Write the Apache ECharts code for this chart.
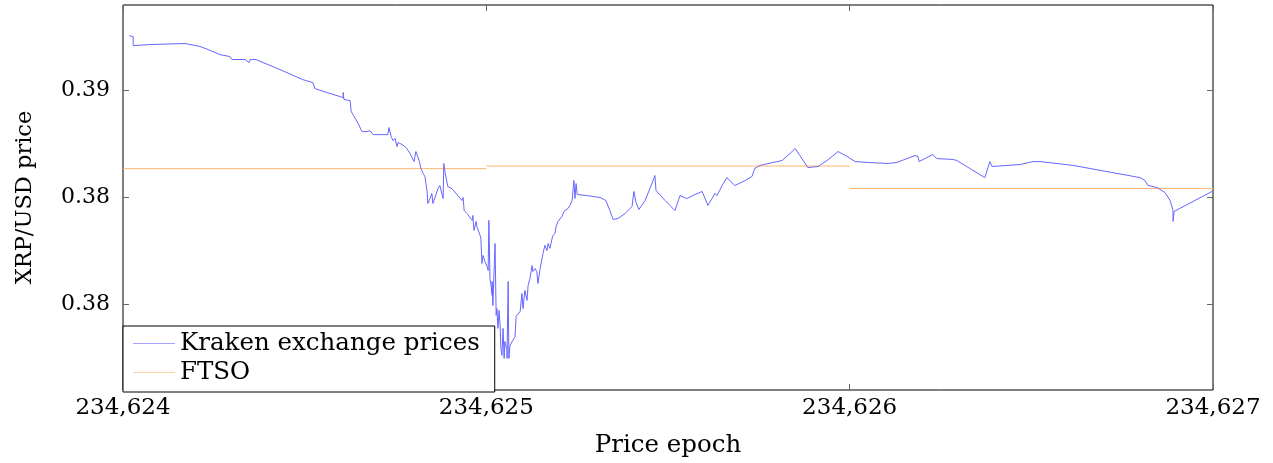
<!DOCTYPE html>
<html><head><meta charset="utf-8">
<script src="https://cdn.jsdelivr.net/npm/echarts@6/dist/echarts.min.js"></script>
<style>html,body{margin:0;padding:0;background:#fff}#c{width:1273px;height:463px}</style>
</head><body><div id="c"></div>
<script>
const krakenEpoch = [
234624.017,234624.028,234624.028,234624.074,234624.171,234624.212,234624.234,234624.267,234624.294,234624.300,
234624.336,234624.341,234624.347,234624.350,234624.366,234624.432,234624.495,234624.523,234624.528,234624.528,
234624.606,234624.606,234624.608,234624.625,234624.628,234624.636,234624.647,234624.658,234624.663,234624.672,
234624.680,234624.688,234624.729,234624.732,234624.738,234624.743,234624.749,234624.754,234624.757,234624.768,
234624.779,234624.790,234624.801,234624.806,234624.815,234624.820,234624.826,234624.831,234624.837,234624.839,
234624.845,234624.850,234624.853,234624.867,234624.872,234624.881,234624.883,234624.886,234624.894,234624.905,
234624.933,234624.936,234624.939,234624.947,234624.961,234624.963,234624.966,234624.972,234624.974,234624.977,
234624.983,234624.985,234624.988,234624.991,234624.996,234625.002,234625.005,234625.007,234625.010,234625.013,
234625.016,234625.016,234625.018,234625.024,234625.027,234625.029,234625.032,234625.035,234625.038,234625.040,
234625.043,234625.046,234625.049,234625.051,234625.057,234625.057,234625.060,234625.062,234625.065,234625.079,
234625.082,234625.087,234625.093,234625.098,234625.101,234625.106,234625.112,234625.115,234625.120,234625.126,
234625.128,234625.134,234625.139,234625.142,234625.148,234625.156,234625.161,234625.167,234625.170,234625.175,
234625.181,234625.183,234625.189,234625.192,234625.197,234625.208,234625.214,234625.217,234625.225,234625.230,
234625.236,234625.239,234625.241,234625.244,234625.247,234625.250,234625.277,234625.313,234625.329,234625.340,
234625.349,234625.362,234625.382,234625.401,234625.406,234625.412,234625.420,234625.437,234625.459,234625.464,
234625.467,234625.492,234625.519,234625.533,234625.552,234625.574,234625.594,234625.610,234625.621,234625.629,
234625.635,234625.649,234625.662,234625.684,234625.712,234625.731,234625.739,234625.753,234625.814,234625.836,
234625.850,234625.885,234625.913,234625.938,234625.968,234625.993,234626.015,234626.048,234626.106,234626.130,
234626.180,234626.188,234626.191,234626.229,234626.240,234626.284,234626.295,234626.372,234626.386,234626.392,
234626.469,234626.505,234626.524,234626.615,234626.799,234626.813,234626.821,234626.846,234626.868,234626.882,
234626.890,234626.890,234626.893,234626.997
];
const krakenPrice = [
0.39257,0.39252,0.39210,0.39215,0.39220,0.39206,0.39192,0.39168,0.39159,0.39145,
0.39145,0.39140,0.39131,0.39145,0.39145,0.39098,0.39051,0.39037,0.39033,0.39009,
0.38967,0.38991,0.38958,0.38953,0.38902,0.38879,0.38846,0.38808,0.38799,0.38808,
0.38813,0.38794,0.38794,0.38827,0.38785,0.38766,0.38776,0.38738,0.38757,0.38748,
0.38734,0.38706,0.38668,0.38715,0.38673,0.38636,0.38612,0.38598,0.38528,0.38472,
0.38495,0.38519,0.38472,0.38542,0.38556,0.38495,0.38659,0.38621,0.38551,0.38542,
0.38486,0.38500,0.38439,0.38425,0.38393,0.38416,0.38346,0.38388,0.38364,0.38355,
0.38322,0.38308,0.38192,0.38229,0.38201,0.38178,0.38159,0.38393,0.38121,0.38089,
0.38042,0.38107,0.37995,0.38285,0.37949,0.37981,0.37888,0.37972,0.37902,0.37794,
0.37762,0.37888,0.37748,0.37827,0.37785,0.37748,0.38107,0.37748,0.37808,0.37850,
0.37944,0.37949,0.37967,0.38051,0.37981,0.38065,0.38019,0.38089,0.38121,0.38182,
0.38154,0.38168,0.38154,0.38098,0.38168,0.38238,0.38276,0.38252,0.38285,0.38262,
0.38308,0.38322,0.38332,0.38364,0.38388,0.38411,0.38435,0.38439,0.38449,0.38463,
0.38486,0.38495,0.38579,0.38495,0.38565,0.38514,0.38509,0.38500,0.38486,0.38439,
0.38397,0.38402,0.38425,0.38458,0.38528,0.38477,0.38444,0.38486,0.38579,0.38603,
0.38533,0.38486,0.38439,0.38509,0.38495,0.38514,0.38528,0.38463,0.38495,0.38519,
0.38509,0.38556,0.38593,0.38556,0.38579,0.38598,0.38636,0.38650,0.38673,0.38706,
0.38729,0.38640,0.38645,0.38673,0.38715,0.38692,0.38668,0.38664,0.38659,0.38664,
0.38696,0.38692,0.38668,0.38701,0.38682,0.38678,0.38673,0.38593,0.38668,0.38645,
0.38654,0.38668,0.38668,0.38650,0.38593,0.38579,0.38556,0.38547,0.38523,0.38486,
0.38439,0.38388,0.38435,0.38528
];
const ftsoEpochStart = [234624, 234625, 234626];
const ftsoEpochEnd = [234625, 234626, 234627];
const ftsoPrice = [0.38635, 0.38647, 0.38542];
const xTickValues = [234624, 234625, 234626, 234627];
const xTickLabels = ['234,624', '234,625', '234,626', '234,627'];
const yTickValues = [0.38, 0.385, 0.39];
const yTickLabels = ['0.38', '0.38', '0.39'];

const FONT = 'DejaVu Serif';
const BLUE = '#6666ff';
const ORANGE = '#ffb570';
function nearestLabel(vals, labels, v) {
  let bi = 0, bd = Infinity;
  vals.forEach((t, i) => { const d = Math.abs(t - v); if (d < bd) { bd = d; bi = i; } });
  return labels[bi];
}
const tickStyle = { show: true, inside: true, length: 6, lineStyle: { color: '#666', width: 1 } };

const series = [{
  name: 'Kraken exchange prices', type: 'line', showSymbol: false, symbol: 'none',
  color: BLUE, lineStyle: { color: BLUE, width: 1 },
  data: krakenEpoch.map((e, i) => [e, krakenPrice[i]]), z: 3
}];
ftsoPrice.forEach((p, i) => {
  series.push({
    name: 'FTSO', type: 'line', showSymbol: false, symbol: 'none',
    color: ORANGE, lineStyle: { color: ORANGE, width: 1 },
    data: [[ftsoEpochStart[i], p], [ftsoEpochEnd[i], p]], z: 2
  });
});

const chart = echarts.init(document.getElementById('c'), null, { renderer: 'canvas' });
chart.setOption({
  animation: false,
  backgroundColor: '#fff',
  grid: { left: 123, right: 60, top: 5, bottom: 72, show: true, borderColor: '#000', borderWidth: 1, backgroundColor: 'transparent' },
  legend: {
    orient: 'vertical', left: 123, top: 326,
    backgroundColor: '#fff', borderColor: '#000', borderWidth: 1, borderRadius: 0,
    padding: [3, 15, 5, 10], itemGap: 0, itemWidth: 42, itemHeight: 1, icon: 'rect',
    textStyle: { fontFamily: FONT, fontSize: 24.5, color: '#000', lineHeight: 29 },
    data: [
      { name: 'Kraken exchange prices', itemStyle: { opacity: 0.6 } },
      { name: 'FTSO', itemStyle: { opacity: 0.6 } }
    ]
  },
  xAxis: [{
    type: 'value', min: 234624, max: 234627, position: 'bottom',
    name: 'Price epoch', nameLocation: 'middle', nameGap: 43,
    nameTextStyle: { fontFamily: FONT, fontSize: 24.5, color: '#000' },
    axisLine: { show: false }, splitLine: { show: false },
    axisTick: Object.assign({ customValues: xTickValues }, tickStyle),
    axisLabel: { customValues: xTickValues, margin: 7, fontFamily: FONT, fontSize: 23, color: '#000',
      formatter: v => nearestLabel(xTickValues, xTickLabels, v) }
  }, {
    type: 'value', min: 234624, max: 234627, position: 'top',
    axisLine: { show: false }, splitLine: { show: false },
    axisTick: Object.assign({ customValues: xTickValues }, tickStyle),
    axisLabel: { show: false }
  }],
  yAxis: [{
    type: 'value', min: 0.376, max: 0.394, position: 'left',
    name: 'XRP/USD price', nameLocation: 'middle', nameGap: 86,
    nameTextStyle: { fontFamily: FONT, fontSize: 22.5, color: '#000' },
    axisLine: { show: false }, splitLine: { show: false },
    axisTick: Object.assign({ customValues: yTickValues }, tickStyle),
    axisLabel: { customValues: yTickValues, margin: 13, fontFamily: FONT, fontSize: 22, color: '#000',
      formatter: v => nearestLabel(yTickValues, yTickLabels, v) }
  }, {
    type: 'value', min: 0.376, max: 0.394, position: 'right',
    axisLine: { show: false }, splitLine: { show: false },
    axisTick: Object.assign({ customValues: yTickValues }, tickStyle),
    axisLabel: { show: false }
  }],
  series: series
});
</script>
</body></html>
